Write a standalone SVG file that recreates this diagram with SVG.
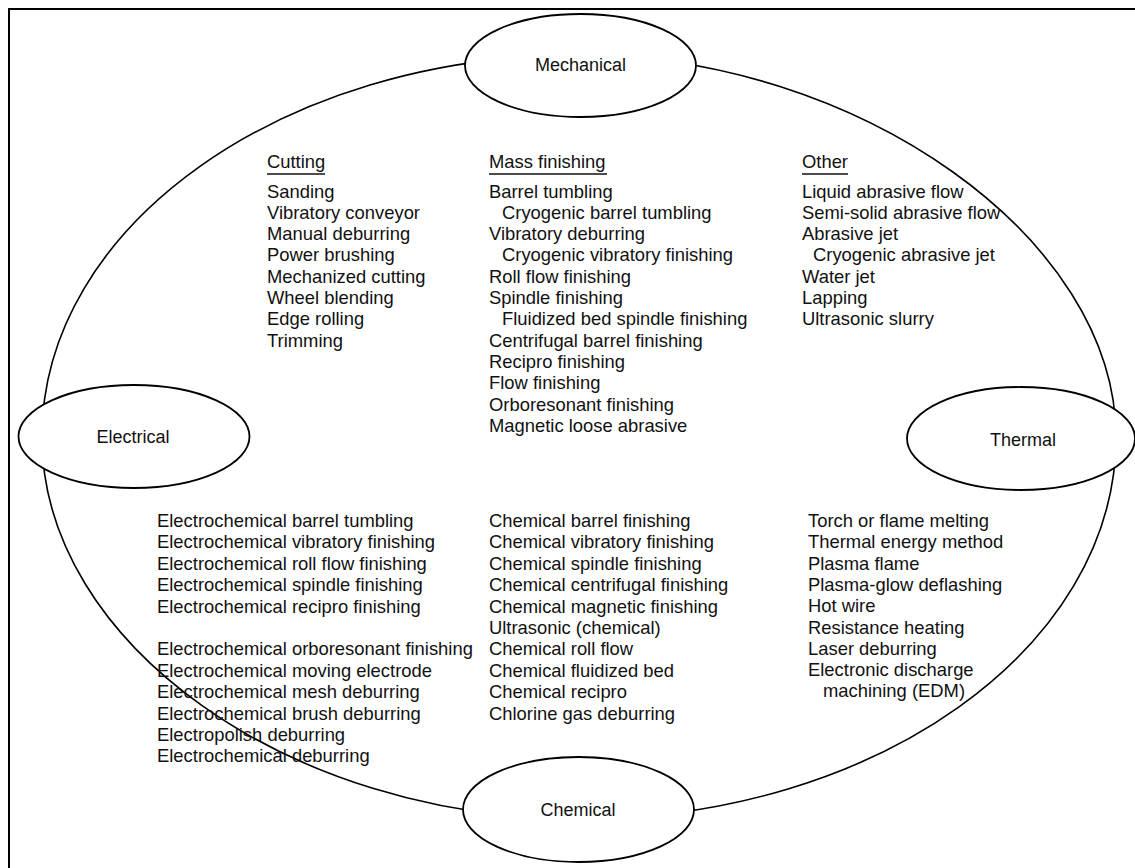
<svg xmlns="http://www.w3.org/2000/svg" width="1135" height="868" viewBox="0 0 1135 868">
<style>
.bg{fill:#fff}
.frame{fill:none;stroke:#000;stroke-width:2}
.ring{fill:none;stroke:#000;stroke-width:1.6}
.node{fill:#fff;stroke:#000;stroke-width:1.8}
.lbl{font-family:"Liberation Sans",Arial,sans-serif;font-size:18px;fill:#111;text-anchor:middle}
.t{font-family:"Liberation Sans",Arial,sans-serif;font-size:18.4px;fill:#111}
.ul{stroke:#111;stroke-width:1.6}
</style>
<rect class="bg" x="0" y="0" width="1135" height="868"/>
<path class="frame" d="M9,868 V9 H1135"/>
<g id="connectors">
<path class="ring" d="M42,437 C42,226 282.4,55 579,55 C858.2,55 1116,238.4 1116,437 C1116,648 875.6,819 579,819 C289,819 42,643.3 42,437 Z"/>
</g>
<g id="mechanical">
<ellipse class="node" cx="580.5" cy="65.5" rx="115.5" ry="51.5"/>
<text class="lbl" x="580.5" y="71">Mechanical</text>
</g>
<g id="electrical">
<ellipse class="node" cx="134" cy="436.5" rx="115.5" ry="51.5"/>
<text class="lbl" x="133" y="443">Electrical</text>
</g>
<g id="thermal">
<ellipse class="node" cx="1021" cy="438.5" rx="114" ry="51.5"/>
<text class="lbl" x="1023" y="446">Thermal</text>
</g>
<g id="chemical">
<ellipse class="node" cx="578.5" cy="809.5" rx="115.5" ry="52.5"/>
<text class="lbl" x="578" y="816">Chemical</text>
</g>
<g id="cutting-list">
<text class="t" x="267" y="168">Cutting</text>
<line class="ul" x1="267" y1="174" x2="325" y2="174"/>
<text class="t">
<tspan x="267" y="197.5">Sanding</tspan>
<tspan x="267" y="218.8">Vibratory conveyor</tspan>
<tspan x="267" y="240.1">Manual deburring</tspan>
<tspan x="267" y="261.4">Power brushing</tspan>
<tspan x="267" y="282.7">Mechanized cutting</tspan>
<tspan x="267" y="304">Wheel blending</tspan>
<tspan x="267" y="325.3">Edge rolling</tspan>
<tspan x="267" y="346.6">Trimming</tspan>
</text>
</g>
<g id="mass-finishing-list">
<text class="t" x="489" y="168">Mass finishing</text>
<line class="ul" x1="489" y1="174" x2="607" y2="174"/>
<text class="t">
<tspan x="489" y="197.5">Barrel tumbling</tspan>
<tspan x="502" y="218.8">Cryogenic barrel tumbling</tspan>
<tspan x="489" y="240.1">Vibratory deburring</tspan>
<tspan x="502" y="261.4">Cryogenic vibratory finishing</tspan>
<tspan x="489" y="282.7">Roll flow finishing</tspan>
<tspan x="489" y="304">Spindle finishing</tspan>
<tspan x="502" y="325.3">Fluidized bed spindle finishing</tspan>
<tspan x="489" y="346.6">Centrifugal barrel finishing</tspan>
<tspan x="489" y="367.9">Recipro finishing</tspan>
<tspan x="489" y="389.2">Flow finishing</tspan>
<tspan x="489" y="410.5">Orboresonant finishing</tspan>
<tspan x="489" y="431.8">Magnetic loose abrasive</tspan>
</text>
</g>
<g id="other-list">
<text class="t" x="802" y="168">Other</text>
<line class="ul" x1="802" y1="174" x2="848" y2="174"/>
<text class="t">
<tspan x="802" y="197.5">Liquid abrasive flow</tspan>
<tspan x="802" y="218.8">Semi-solid abrasive flow</tspan>
<tspan x="802" y="240.1">Abrasive jet</tspan>
<tspan x="813" y="261.4">Cryogenic abrasive jet</tspan>
<tspan x="802" y="282.7">Water jet</tspan>
<tspan x="802" y="304">Lapping</tspan>
<tspan x="802" y="325.3">Ultrasonic slurry</tspan>
</text>
</g>
<g id="electrical-list">
<text class="t">
<tspan x="157" y="527">Electrochemical barrel tumbling</tspan>
<tspan x="157" y="548.4">Electrochemical vibratory finishing</tspan>
<tspan x="157" y="569.8">Electrochemical roll flow finishing</tspan>
<tspan x="157" y="591.2">Electrochemical spindle finishing</tspan>
<tspan x="157" y="612.6">Electrochemical recipro finishing</tspan>
<tspan x="157" y="655.4">Electrochemical orboresonant finishing</tspan>
<tspan x="157" y="676.8">Electrochemical moving electrode</tspan>
<tspan x="157" y="698.2">Electrochemical mesh deburring</tspan>
<tspan x="157" y="719.6">Electrochemical brush deburring</tspan>
<tspan x="157" y="741">Electropolish deburring</tspan>
<tspan x="157" y="762.4">Electrochemical deburring</tspan>
</text>
</g>
<g id="chemical-list">
<text class="t">
<tspan x="489" y="527">Chemical barrel finishing</tspan>
<tspan x="489" y="548.4">Chemical vibratory finishing</tspan>
<tspan x="489" y="569.8">Chemical spindle finishing</tspan>
<tspan x="489" y="591.2">Chemical centrifugal finishing</tspan>
<tspan x="489" y="612.6">Chemical magnetic finishing</tspan>
<tspan x="489" y="634">Ultrasonic (chemical)</tspan>
<tspan x="489" y="655.4">Chemical roll flow</tspan>
<tspan x="489" y="676.8">Chemical fluidized bed</tspan>
<tspan x="489" y="698.2">Chemical recipro</tspan>
<tspan x="489" y="719.6">Chlorine gas deburring</tspan>
</text>
</g>
<g id="thermal-list">
<text class="t">
<tspan x="808" y="527">Torch or flame melting</tspan>
<tspan x="808" y="548.3">Thermal energy method</tspan>
<tspan x="808" y="569.6">Plasma flame</tspan>
<tspan x="808" y="590.9">Plasma-glow deflashing</tspan>
<tspan x="808" y="612.2">Hot wire</tspan>
<tspan x="808" y="633.5">Resistance heating</tspan>
<tspan x="808" y="654.8">Laser deburring</tspan>
<tspan x="808" y="676.1">Electronic discharge</tspan>
<tspan x="823" y="697.4">machining (EDM)</tspan>
</text>
</g>
</svg>
